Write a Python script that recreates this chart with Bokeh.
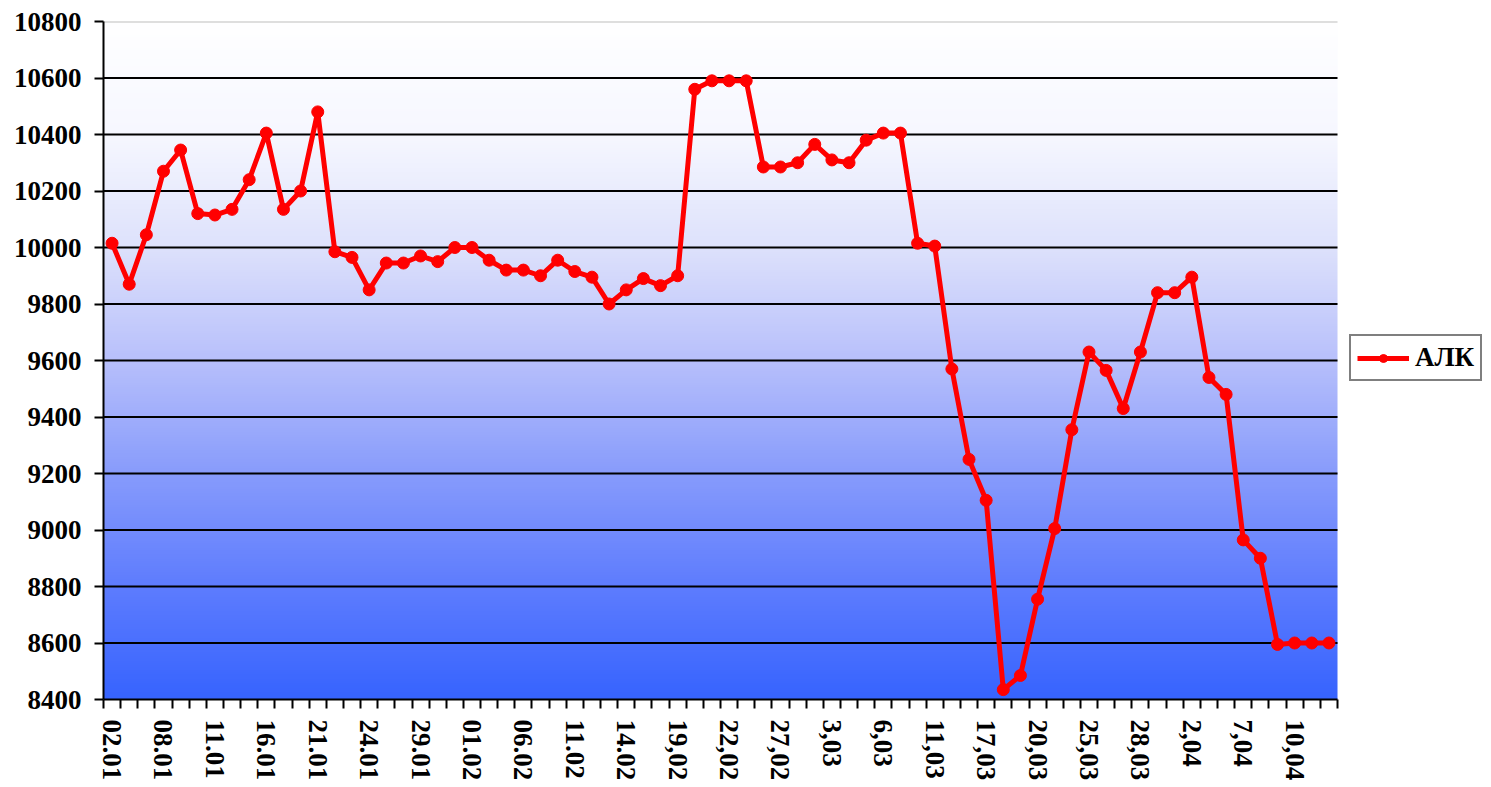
import numpy as np
from bokeh.plotting import figure
from bokeh.models import (Range1d, FixedTicker, Legend, LegendItem)
from bokeh.embed import file_html
from bokeh.resources import INLINE

# ---- data ----
tick_labels = ["02.01", "08.01", "11.01", "16.01", "21.01", "24.01", "29.01",
               "01.02", "06.02", "11.02", "14.02", "19,02", "22,02", "27,02",
               "3,03", "6,03", "11,03", "17,03", "20,03", "25,03", "28,03",
               "2,04", "7,04", "10,04"]
label_every = 3

alk_values = [10015, 9870, 10045, 10270, 10345, 10120, 10115, 10135, 10240, 10405,
              10135, 10200, 10480,
              9985, 9965, 9850, 9945, 9945, 9970, 9950, 10000, 10000, 9955, 9920,
              9920, 9900, 9955, 9915, 9895, 9800, 9850, 9890, 9865, 9900,
              10560, 10590, 10590, 10590, 10285, 10285, 10300, 10365, 10310, 10300,
              10380, 10405, 10405,
              10015, 10005, 9570, 9250, 9105, 8435, 8485, 8755, 9005, 9355, 9630,
              9565, 9430, 9630, 9840, 9840, 9895, 9540, 9480, 8965, 8900, 8595,
              8600, 8600, 8600]
series_name = "АЛК"

y_ticks = list(range(8400, 10801, 200))
y_min, y_max = 8400, 10800

# gradient stops (fraction from bottom, rgb)
grad_pos = [0.0, 0.17, 0.33, 0.5, 0.67, 0.83, 1.0]
grad_r = [55, 95, 135, 184, 222, 246, 255]
grad_g = [100, 125, 155, 192, 226, 247, 255]
grad_b = [255, 254, 252, 251, 252, 255, 255]

FONT = "Liberation Serif"
n = len(alk_values)
xs = list(range(n))

# layout (pixels)
W, H = 1483, 783
LEFT, TOP, BOTTOM = 103, 21, 84
DATA_W = 1234                       # width of the plotting area proper
frame_w = W - LEFT
x_start = -0.5
x_end = x_start + n * frame_w / DATA_W   # extra room on the right for the legend

p = figure(width=W, height=H, output_backend="svg", toolbar_location=None,
           x_range=Range1d(x_start, x_end), y_range=Range1d(y_min, y_max),
           min_border_left=LEFT, min_border_right=0, min_border_top=TOP,
           min_border_bottom=BOTTOM, background_fill_color="white",
           border_fill_color="white")
p.outline_line_color = None
p.xgrid.visible = False
p.ygrid.visible = False

# gradient background of the plotting area
rows = 300
t = np.linspace(0, 1, rows)
r = np.interp(t, grad_pos, grad_r)
g = np.interp(t, grad_pos, grad_g)
b = np.interp(t, grad_pos, grad_b)
img = np.zeros((rows, 1), dtype=np.uint32)
view = img.view(dtype=np.uint8).reshape((rows, 1, 4))
view[:, 0, 0] = r.astype(np.uint8)
view[:, 0, 1] = g.astype(np.uint8)
view[:, 0, 2] = b.astype(np.uint8)
view[:, 0, 3] = 255
p.image_rgba(image=[img], x=-0.5, y=y_min, dw=n, dh=y_max - y_min, level="image")

# horizontal gridlines limited to the plotting area
grid_y = [v for v in y_ticks if y_min < v < y_max]
p.segment(x0=[-0.5] * len(grid_y), x1=[n - 0.5] * len(grid_y), y0=grid_y, y1=grid_y,
          line_color="black", line_width=2, level="underlay")
p.segment(x0=[-0.5], x1=[n - 0.5], y0=[y_max], y1=[y_max],
          line_color="#bdbdbd", line_width=2, level="underlay")

# series
line = p.line(xs, alk_values, line_color="#ff0000", line_width=5)
pts = p.scatter(xs, alk_values, marker="circle", size=12, fill_color="#ff0000",
                line_color="#ff0000")

# y axis
p.yaxis.ticker = FixedTicker(ticks=y_ticks)
p.yaxis.axis_line_color = "black"
p.yaxis.axis_line_width = 2
p.yaxis.major_tick_out = 9
p.yaxis.major_tick_in = 0
p.yaxis.major_tick_line_width = 2
p.yaxis.minor_tick_line_color = None
p.yaxis.major_label_text_font = FONT
p.yaxis.major_label_text_font_style = "bold"
p.yaxis.major_label_text_font_size = "27px"
p.yaxis.major_label_text_color = "black"
p.yaxis.major_label_standoff = 13

# x axis
major = [i * label_every for i in range(len(tick_labels))]
p.xaxis.ticker = FixedTicker(ticks=major, minor_ticks=[i - 0.5 for i in range(n + 1)])
p.xaxis.major_label_overrides = {m: lab for m, lab in zip(major, tick_labels)}
p.xaxis.bounds = (-0.5, n - 0.5)
p.xaxis.axis_line_color = "black"
p.xaxis.axis_line_width = 2
p.xaxis.major_tick_out = 0
p.xaxis.major_tick_in = 0
p.xaxis.minor_tick_out = 9
p.xaxis.minor_tick_in = 0
p.xaxis.minor_tick_line_color = "black"
p.xaxis.minor_tick_line_width = 2
p.xaxis.major_label_orientation = "vertical"
p.xaxis.major_label_text_font = FONT
p.xaxis.major_label_text_font_style = "bold"
p.xaxis.major_label_text_font_size = "27px"
p.xaxis.major_label_text_color = "black"
p.xaxis.major_label_standoff = 11

# legend, right of the plotting area
legend = Legend(items=[LegendItem(label=series_name, renderers=[line, pts])],
                location=(1246, 318), orientation="vertical",
                border_line_color="black", border_line_width=2,
                background_fill_color="white", background_fill_alpha=1,
                label_text_font=FONT, label_text_font_style="bold",
                label_text_font_size="27px", label_text_color="black",
                glyph_width=52, glyph_height=20, padding=6, spacing=0,
                margin=0, label_standoff=6)
p.add_layout(legend, "center")

open("out.html", "w").write(file_html(p, INLINE))
